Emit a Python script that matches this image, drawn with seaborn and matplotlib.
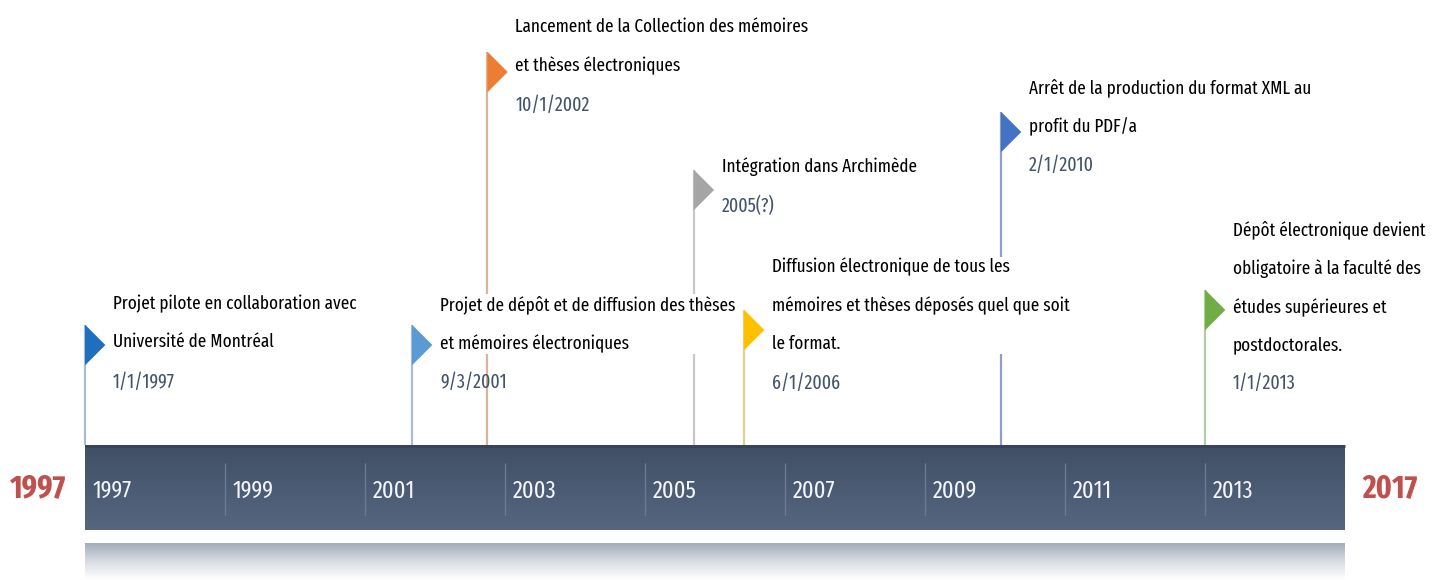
import numpy as np
import pandas as pd
import seaborn as sns
import matplotlib.pyplot as plt
from matplotlib.path import Path
from matplotlib.colors import LinearSegmentedColormap

# données de la frise
dates = ["1997-01-01", "2001-09-03", "2002-10-01", "2005-09-12",
         "2006-06-01", "2010-02-01", "2013-01-01"]
date_labels = ["1/1/1997", "9/3/2001", "10/1/2002", "2005(?)",
               "6/1/2006", "2/1/2010", "1/1/2013"]
titres = [
    "Projet pilote en collaboration avec\nUniversité de Montréal",
    "Projet de dépôt et de diffusion des thèses\net mémoires électroniques",
    "Lancement de la Collection des mémoires\net thèses électroniques",
    "Intégration dans Archimède",
    "Diffusion électronique de tous les\nmémoires et thèses déposés quel que soit\nle format.",
    "Arrêt de la production du format XML au\nprofit du PDF/a",
    "Dépôt électronique devient\nobligatoire à la faculté des\nétudes supérieures et\npostdoctorales.",
]
annees_axe = list(range(1997, 2015, 2))
debut, fin = 1997, 2015
etiquettes_bornes = ["1997", "2017"]

# mise en page (pixels depuis le haut)
haut_tige = [325, 325, 52, 170, 310, 112, 290]
haut_texte = [295, 295, 18, 157, 258, 78, 220]
couleurs = ["#1f6fbf", "#5b9bd5", "#ed7d31", "#a5a5a5", "#ffc000", "#4472c4", "#70ad47"]
couleurs_tige = ["#a9bcd0", "#a9bcd0", "#d9b49a", "#c8c8c8", "#e3cf8a", "#8fa0c8", "#b0cfa0"]

def en_annee(d):
    t = pd.Timestamp(d)
    return t.year + (t.dayofyear - 1) / 365.0

df = pd.DataFrame({"x": [en_annee(d) for d in dates], "titre": titres,
                   "date": date_labels, "tige": haut_tige, "texte": haut_texte})
df["y_drapeau"] = df["tige"] + 20

sns.set_theme(style="white")
plt.rcParams["font.family"] = ["Fira Sans Extra Condensed", "Fira Sans Condensed",
                               "Liberation Sans Narrow", "DejaVu Sans"]

fig = plt.figure(figsize=(14.32, 5.8), dpi=100)
ax = fig.add_axes([0, 0, 1, 1])
px = 70.0
x0 = debut - 85 / px
x1 = x0 + 1432 / px

# barre principale
grad = np.linspace(0, 1, 64).reshape(-1, 1)
cmap_barre = LinearSegmentedColormap.from_list("barre", ["#414f65", "#4b5b73", "#56667e"])
ax.imshow(grad, extent=[debut, fin, 530, 445], aspect="auto", cmap=cmap_barre, zorder=1)
ax.hlines(446, debut, fin, color="#36435a", lw=2, zorder=2)
cmap_reflet = LinearSegmentedColormap.from_list("reflet", ["#a4adba", "#d9dde3", "#ffffff"])
ax.imshow(grad, extent=[debut, fin, 580, 543], aspect="auto", cmap=cmap_reflet, zorder=1)

for a in annees_axe:
    if a != debut:
        ax.vlines(a, 463, 515, color="#6b7a92", lw=1, zorder=2)
    ax.text(a + 8 / px, 491, str(a), color="#f2f4f7", fontsize=17.5,
            va="center", ha="left", zorder=3)

ax.text(x0 + 38 / px, 489, etiquettes_bornes[0], color="#c0504d", fontsize=23,
        fontweight="bold", ha="center", va="center")
ax.text(x0 + 1390 / px, 489, etiquettes_bornes[1], color="#c0504d", fontsize=23,
        fontweight="bold", ha="center", va="center")

# tiges
ax.vlines(df["x"], df["tige"], 445, colors=couleurs_tige, lw=1.6, zorder=2)

# drapeaux
drapeau = Path([(0, -1), (1.0, 0), (0, 1), (0, -1)],
               [Path.MOVETO, Path.LINETO, Path.LINETO, Path.CLOSEPOLY])
sns.scatterplot(data=df, x="x", y="y_drapeau", hue="date", palette=couleurs,
                marker=drapeau, s=860, linewidth=0, legend=False, ax=ax, zorder=5)

# textes
for _, r in df.iterrows():
    n = r["titre"].count("\n") + 1
    ax.text(r["x"] + 28 / px, r["texte"], r["titre"], fontsize=13.4, color="#000000",
            va="top", ha="left", linespacing=2.38, zorder=4,
            bbox=dict(facecolor="white", edgecolor="none", pad=1))
    ax.text(r["x"] + 28 / px, r["texte"] + n * 38 + 1, r["date"], fontsize=14,
            color="#44546a", va="top", ha="left", zorder=4)

ax.set_xlim(x0, x1)
ax.set_ylim(580, 0)
ax.axis("off")
fig.savefig("out.png", dpi=100)
